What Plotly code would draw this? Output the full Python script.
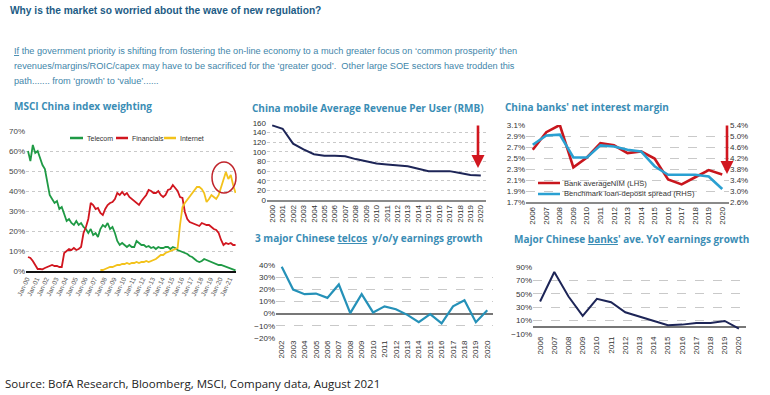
import plotly.graph_objects as go

W, H = 770, 395

# ---------------- DATA ----------------
# MSCI China index weighting (%), quarterly samples Feb/May/Aug/Nov, 2000 -> Aug 2021
msci_dates = [f"{y}-{m:02d}-15" for y in range(2000, 2022) for m in (2, 5, 8, 11)][:87]
msci_ticks = [f"{y}-01-01" for y in range(2000, 2022)]
msci_ticktext = [f"Jan-{y % 100:02d}" for y in range(2000, 2022)]
telecom = [60, 55, 63, 59, 60, 56, 53, 51, 45, 38, 36, 34, 35, 31, 32, 28,
           25, 26, 24, 23, 25, 23, 24, 22, 21, 19, 21, 18, 19, 17, 21, 23,
           22, 24, 21, 22, 19, 15, 13, 14, 13, 12, 13, 12, 12, 15, 14, 13,
           13, 12, 12.5, 11.5, 12, 11, 12, 11.5, 11.5, 12, 12, 11, 12, 11.5, 10.5, 10,
           9.5, 9, 8.5, 7.5, 7, 6, 5, 4.5, 5, 6, 5.5, 5, 4.5, 4, 3.5, 3,
           3, 2.5, 2, 1.5, 1, 0.5, 0.3]
financials = [7, 6.5, 5, 3, 1, 1, 0.8, 1.5, 2, 2.5, 3, 2.5, 2.5, 2, 2, 9,
              10, 11, 10.5, 11.5, 10.5, 11, 12, 19, 22, 26, 34, 33, 31, 31.5, 29, 28,
              31, 33, 34, 34.5, 36, 39, 38, 39.5, 38, 39, 37, 36, 35, 34, 33, 35,
              36.5, 38, 40.5, 40, 39, 39, 40, 38, 37, 38, 40.5, 41, 43, 41.5, 40, 37,
              36.5, 29.5, 26, 24.5, 24, 23.5, 23, 22.5, 24, 23.5, 23, 23, 22, 21, 20.5, 19,
              15.5, 13, 14, 13.5, 14, 13, 13]
internet = [None] * 30 + [0.5, 0.5,
            1, 1.5, 2, 2, 2.5, 3, 3, 3.5, 3.5, 4, 3.5, 4, 4, 4.5, 4, 4.5,
            4.5, 5, 4.5, 5, 5.5, 6, 7, 8, 8, 9, 9.5, 10, 10.5, 11, 11.5, 23,
            32, 34, 35.5, 37, 39, 40.5, 42, 42, 41, 39, 34.5, 36, 38, 37, 36, 38,
            42, 46, 49.5, 46, 48, 43, 39]

# China mobile ARPU (RMB)
arpu_years = list(range(2000, 2021))
arpu = [155, 148, 117, 105, 95, 92, 92, 91, 85, 80, 76, 74, 72, 70, 65, 60, 60, 60, 56, 52, 51]

# China banks' net interest margin
nim_years = list(range(2006, 2021))
nim = [2.65, 2.97, 3.10, 2.33, 2.51, 2.77, 2.73, 2.59, 2.62, 2.49, 2.11, 2.02, 2.15, 2.28, 2.20]
spread = [4.68, 5.02, 5.05, 4.22, 4.22, 4.66, 4.62, 4.50, 4.44, 3.90, 3.59, 3.59, 3.59, 3.53, 3.07]

# 3 major Chinese telcos y/o/y earnings growth (%)
telco_years = list(range(2002, 2021))
telco_growth = [38.5, 19.8, 16, 16.5, 13, 24, 0.5, 16, 1, 6, 3.6, -1, -7, -0.3, -8, 6, 11, -7, 2.8]

# Major Chinese banks' average YoY earnings growth (%)
bank_years = list(range(2006, 2021))
bank_growth = [38.5, 82.5, 46, 17, 42.5, 37.5, 22.5, 16, 9.5, 3, 4, 6.5, 6.5, 9.5, -2]

# ---------------- STYLE ----------------
SANS = "Liberation Sans, Arial, sans-serif"
OPEN = "Open Sans, sans-serif"
TITLE_C = "#3a8db5"
GREEN, RED, YELLOW = "#1f9a45", "#d1161f", "#f3c21b"
NAVY = "#1d2557"
TEAL = "#2591b8"
LBLUE = "#2aa0d2"
NIMRED = "#c8161d"


def px(x):
    return x / W


def py(y):
    return 1 - y / H


def dom_x(a, b):
    return [px(a), px(b)]


def dom_y(top, bottom):
    return [py(bottom), py(top)]


fig = go.Figure()

# MSCI
fig.add_trace(go.Scatter(x=msci_dates, y=telecom, mode="lines", line=dict(color=GREEN, width=1.8),
                         name="Telecom", xaxis="x", yaxis="y"))
fig.add_trace(go.Scatter(x=msci_dates, y=financials, mode="lines", line=dict(color=RED, width=1.8),
                         name="Financials", xaxis="x", yaxis="y"))
fig.add_trace(go.Scatter(x=msci_dates, y=internet, mode="lines", line=dict(color=YELLOW, width=1.8),
                         name="Internet", xaxis="x", yaxis="y"))
# ARPU
fig.add_trace(go.Scatter(x=arpu_years, y=arpu, mode="lines", line=dict(color=NAVY, width=2),
                         name="ARPU", xaxis="x2", yaxis="y2"))
# NIM
fig.add_trace(go.Scatter(x=nim_years, y=nim, mode="lines", line=dict(color=NIMRED, width=2.6),
                         name="Bank averageNIM (LHS)", xaxis="x3", yaxis="y3"))
fig.add_trace(go.Scatter(x=nim_years, y=spread, mode="lines", line=dict(color=LBLUE, width=2.6),
                         name="Benchmark loan-deposit spread (RHS)", xaxis="x3", yaxis="y4"))
# Telcos
fig.add_trace(go.Scatter(x=telco_years, y=telco_growth, mode="lines", line=dict(color=TEAL, width=2.2),
                         name="Telcos", xaxis="x4", yaxis="y5"))
# Banks
fig.add_trace(go.Scatter(x=bank_years, y=bank_growth, mode="lines", line=dict(color=NAVY, width=2),
                         name="Banks", xaxis="x5", yaxis="y6"))

tickfont_m = dict(family=SANS, size=8, color="#444")
tickfont_s = dict(family=SANS, size=8, color="#333")
grid = "#c9c9c9"

fig.update_layout(
    template="none", showlegend=False,
    width=W, height=H, margin=dict(l=0, r=0, t=0, b=0),
    paper_bgcolor="white", plot_bgcolor="white",
    # MSCI
    xaxis=dict(domain=dom_x(26, 236), type="date", range=["1999-12-01", "2021-09-01"],
               tickvals=msci_ticks, ticktext=msci_ticktext, tickangle=-65,
               tickfont=dict(family=SANS, size=6.5, color="#555"), showgrid=False, zeroline=False,
               showline=True, linecolor="#111", linewidth=1.5, ticks="", anchor="y"),
    yaxis=dict(domain=dom_y(131, 271), range=[0, 70], dtick=10, ticksuffix="%",
               tickfont=tickfont_m, showgrid=True, gridcolor=grid, griddash="dot",
               zeroline=False, ticks="", anchor="x"),
    # ARPU
    xaxis2=dict(domain=dom_x(267, 486), range=[1999.5, 2020.5], tickvals=arpu_years,
                tickangle=-90, tickfont=tickfont_s, showgrid=False, zeroline=False, showline=True,
                linecolor="#8a8a8a", linewidth=1.5, ticks="", anchor="y2"),
    yaxis2=dict(domain=dom_y(123, 200), range=[0, 160], dtick=20, tickfont=tickfont_s,
                showgrid=True, gridcolor=grid, griddash="dot", zeroline=False, ticks="", anchor="x2"),
    # NIM
    xaxis3=dict(domain=dom_x(526, 729), range=[2005.5, 2020.5], tickvals=nim_years,
                tickangle=-90, tickfont=tickfont_s, showgrid=False, zeroline=False, showline=True,
                linecolor="#8a8a8a", linewidth=1.5, ticks="", anchor="y3"),
    yaxis3=dict(domain=dom_y(125, 202), range=[1.7, 3.1], dtick=0.2, tick0=1.7,
                tickformat=".1f", ticksuffix="%", tickfont=tickfont_s,
                showgrid=True, gridcolor=grid, griddash="dash", zeroline=False, ticks="", anchor="x3"),
    yaxis4=dict(range=[2.6, 5.4], dtick=0.4, tick0=2.6, tickformat=".1f", ticksuffix="%",
                tickfont=tickfont_s, overlaying="y3", side="right", showgrid=False,
                zeroline=False, ticks="", anchor="x3"),
    # Telcos
    xaxis4=dict(domain=dom_x(276, 493), range=[2001.5, 2020.5], tickvals=telco_years,
                tickangle=-90, tickfont=tickfont_s, showgrid=False, zeroline=False, ticks="", anchor="y5"),
    yaxis5=dict(domain=dom_y(265, 338), range=[-20, 40], dtick=10, ticksuffix="%",
                tickfont=tickfont_s, showgrid=True, gridcolor=grid, griddash="dash", ticks="",
                zeroline=True, zerolinecolor="#777", zerolinewidth=1.5, anchor="x4"),
    # Banks
    xaxis5=dict(domain=dom_x(533, 746), range=[2005.5, 2020.5], tickvals=bank_years,
                tickangle=-90, tickfont=tickfont_s, showgrid=False, zeroline=False, ticks="", anchor="y6"),
    yaxis6=dict(domain=dom_y(267, 334), range=[-10, 90], dtick=20, tick0=-10, ticksuffix="%",
                tickfont=tickfont_s, showgrid=True, gridcolor=grid, griddash="dash", ticks="",
                zeroline=True, zerolinecolor="#777", zerolinewidth=1.5, anchor="x5"),
)

ann = []
# headline and body
ann.append(dict(x=px(8), y=py(10), text="<b>Why is the market so worried about the wave of new regulation?</b>",
                font=dict(family=SANS, size=10.2, color="#1d5c85")))
body = [
    "<u>If</u> the government priority is shifting from fostering the on-line economy to a much greater focus on ‘common prosperity’ then",
    "revenues/margins/ROIC/capex may have to be sacrificed for the ‘greater good’.\u00a0 Other large SOE sectors have trodden this",
    "path....... from ‘growth’ to ‘value’......",
]
for i, t in enumerate(body):
    ann.append(dict(x=px(12), y=py(51 + 15.2 * i), text=t,
                    font=dict(family=SANS, size=9.2, color="#3f86aa")))
# section titles
for x, y, t in [(12, 106, "MSCI China index weighting"),
                (250, 108, "China mobile Average Revenue Per User (RMB)"),
                (503, 107, "China banks' net interest margin"),
                (253, 238, "3 major Chinese <u>telcos</u>\u00a0 y/o/y earnings growth"),
                (512, 239, "Major Chinese <u>banks</u>' ave. YoY earnings growth")]:
    ann.append(dict(x=px(x), y=py(y), text="<b>" + t + "</b>",
                    font=dict(family=OPEN, size=10, color=TITLE_C)))
ann.append(dict(x=px(3), y=py(383), text="Source: BofA Research, Bloomberg, MSCI, Company data, August 2021",
                font=dict(family=OPEN, size=11.5, color="#222")))
# MSCI manual legend text
for x, t in [(85, "Telecom"), (130, "Financials"), (178, "Internet")]:
    ann.append(dict(x=px(x), y=py(138), text=t, font=dict(family=SANS, size=7, color="#333")))
# NIM manual legend text
for y, t in [(183, "Bank averageNIM (LHS)"), (194, "Benchmark loan-deposit spread (RHS)")]:
    ann.append(dict(x=px(562), y=py(y), text=t, font=dict(family=SANS, size=7.6, color="#333")))
for a in ann:
    a.update(xref="paper", yref="paper", xanchor="left", yanchor="middle", showarrow=False)

# red arrows
for x, y0, y1 in [(478, 124, 168), (727, 124, 174)]:
    ann.append(dict(xref="paper", yref="paper", x=px(x), y=py(y1), ax=0, ay=-(y1 - y0),
                    text="", showarrow=True, arrowhead=2, arrowsize=1, arrowwidth=2.6,
                    arrowcolor=RED))
fig.update_layout(annotations=ann)

shapes = []
for x0, x1, y, c in [(70, 83, 138, GREEN), (116, 128, 138, RED), (164, 176, 138, YELLOW),
                     (538, 560, 183, NIMRED), (538, 560, 194, LBLUE)]:
    shapes.append(dict(type="line", xref="paper", yref="paper", x0=px(x0), x1=px(x1),
                       y0=py(y), y1=py(y), line=dict(color=c, width=2.5)))
shapes.append(dict(type="circle", xref="paper", yref="paper", x0=px(212), x1=px(236),
                   y0=py(193), y1=py(162), line=dict(color="#c0242b", width=1.5)))
fig.update_layout(shapes=shapes)

fig.write_html("out.html", config={"displayModeBar": False},
               post_script="document.body.style.margin='0';document.body.style.overflow='hidden';")
